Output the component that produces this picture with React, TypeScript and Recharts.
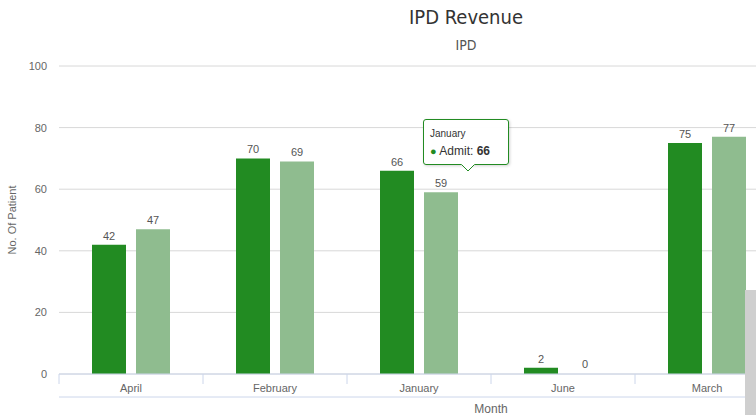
import React from 'react';
import { BarChart, Bar, XAxis, YAxis, CartesianGrid, Tooltip, LabelList, Rectangle } from 'recharts';

const months = ['April', 'February', 'January', 'June', 'March', 'May'];
const admit = [42, 70, 66, 2, 75, null];
const discharge = [47, 69, 59, 0, 77, null];
const yTicks = [0, 20, 40, 60, 80, 100];

const data = months.map((m, i) => ({ month: m, Admit: admit[i], Discharge: discharge[i] }));

const FONT = '"Liberation Sans", "Open Sans", Arial, sans-serif';
const TITLE_FONT = '"Liberation Sans Narrow", "DejaVu Sans Condensed", "Liberation Sans", sans-serif';
const DARK = '#228B22';
const LIGHT = '#8FBC8F';
const AXIS = '#ccd6eb';
const TEXT = '#666666';

const MonthTick = (props: any) => {
  const { x, y, payload } = props;
  let off = payload && payload.offset;
  if (off === undefined || off === null) {
    off = props.width && props.visibleTicksCount ? props.width / props.visibleTicksCount / 2 : 0;
  }
  return (
    <g>
      <line x1={x - off} x2={x - off} y1={y} y2={y + 10} stroke={AXIS} strokeWidth={1} />
      <text x={x} y={y + 18} textAnchor="middle" fill={TEXT} stroke="none" fontSize={11} fontFamily={FONT}>
        {payload.value}
      </text>
    </g>
  );
};

const makeShape = (key: string) => (props: any) => {
  const v = props.payload ? props.payload[key] : props.value;
  if (v === 0 || v === null || v === undefined) return <g />;
  return <Rectangle {...props} />;
};

const TipContent = (props: any) => {
  const { payload } = props;
  if (!payload || !payload.length) return null;
  const p = payload[0];
  const cat = p.payload ? p.payload.month : props.label;
  return (
    <div
      style={{
        position: 'relative',
        width: 86,
        height: 46,
        boxSizing: 'border-box',
        background: 'rgba(255,255,255,0.96)',
        border: `1px solid ${DARK}`,
        borderRadius: 3,
        boxShadow: '1px 1px 3px rgba(0,0,0,0.18)',
        padding: '9px 0 0 6px',
        fontFamily: FONT,
        color: '#333',
        lineHeight: 1,
      }}
    >
      <div style={{ fontSize: 10, marginBottom: 6 }}>{cat}</div>
      <div style={{ fontSize: 12, whiteSpace: 'nowrap' }}>
        <span style={{ color: DARK, fontSize: 11 }}>●</span> {p.name}: <b>{p.value}</b>
      </div>
      <svg
        width={14}
        height={8}
        style={{ position: 'absolute', left: 37, top: 44, overflow: 'visible' }}
      >
        <path d="M0,0 L7,7 L14,0" fill="white" stroke={DARK} strokeWidth={1} />
        <rect x={0.5} y={-1.5} width={13} height={2} fill="white" />
      </svg>
    </div>
  );
};

export default function App() {
  return (
    <div
      style={{
        position: 'fixed',
        left: 0,
        top: 0,
        width: 756,
        height: 415,
        overflow: 'hidden',
        background: '#fff',
      }}
    >
      <div style={{ position: 'absolute', left: 0, top: 0, width: 932, height: 415 }}>
        <div
          style={{
            position: 'absolute',
            left: 0,
            top: 5,
            width: 932,
            textAlign: 'center',
            fontFamily: TITLE_FONT,
            fontSize: 20,
            color: '#333',
          }}
        >
          IPD Revenue
        </div>
        <div
          style={{
            position: 'absolute',
            left: 0,
            top: 37,
            width: 932,
            textAlign: 'center',
            fontFamily: TITLE_FONT,
            fontSize: 14,
            color: '#555',
          }}
        >
          IPD
        </div>
        <BarChart
          width={932}
          height={415}
          data={data}
          margin={{ top: 66, right: 9, bottom: 0, left: 0 }}
          barCategoryGap={33}
          barGap={10}
        >
          <CartesianGrid vertical={false} stroke="#d8d8d8" />
          <XAxis
            dataKey="month"
            xAxisId="cat"
            height={23}
            tickSize={0}
            tickMargin={0}
            tickLine={false}
            axisLine={{ stroke: AXIS }}
            tick={<MonthTick />}
            interval={0}
          />
          <XAxis
            dataKey="month"
            xAxisId="title"
            height={18}
            tick={false}
            tickLine={false}
            axisLine={{ stroke: AXIS }}
            label={{
              value: 'Month',
              position: 'insideBottom',
              offset: 2,
              fill: TEXT,
              fontSize: 12,
              fontFamily: FONT,
            }}
          />
          <YAxis
            width={59}
            domain={[0, 100]}
            ticks={yTicks}
            axisLine={false}
            tickLine={false}
            tickSize={0}
            tickMargin={12}
            tick={{ fill: TEXT, stroke: 'none', fontSize: 11, fontFamily: FONT }}
            label={{
              value: 'No. Of Patient',
              angle: -90,
              position: 'insideLeft',
              offset: 12,
              fill: TEXT,
              fontSize: 11,
              fontFamily: FONT,
              style: { textAnchor: 'middle' },
            }}
          />
          <Tooltip
            content={<TipContent />}
            defaultIndex={2}
            active={true}
            cursor={false}
            position={{ x: 423, y: 119 }}
            isAnimationActive={false}
            wrapperStyle={{ outline: 'none' }}
          />
          <Bar
            dataKey="Admit"
            xAxisId="cat"
            fill={DARK}
            barSize={34}
            minPointSize={1}
            shape={makeShape('Admit')}
            isAnimationActive={false}
          >
            <LabelList dataKey="Admit" position="top" fill="#555" stroke="none" fontSize={11} fontFamily={FONT} />
          </Bar>
          <Bar
            dataKey="Discharge"
            xAxisId="cat"
            fill={LIGHT}
            barSize={34}
            minPointSize={1}
            shape={makeShape('Discharge')}
            isAnimationActive={false}
          >
            <LabelList dataKey="Discharge" position="top" fill="#555" stroke="none" fontSize={11} fontFamily={FONT} />
          </Bar>
        </BarChart>
      </div>
      <div
        style={{
          position: 'absolute',
          left: 745,
          top: 290,
          width: 11,
          height: 125,
          background: '#cfcfcf',
        }}
      />
    </div>
  );
}
